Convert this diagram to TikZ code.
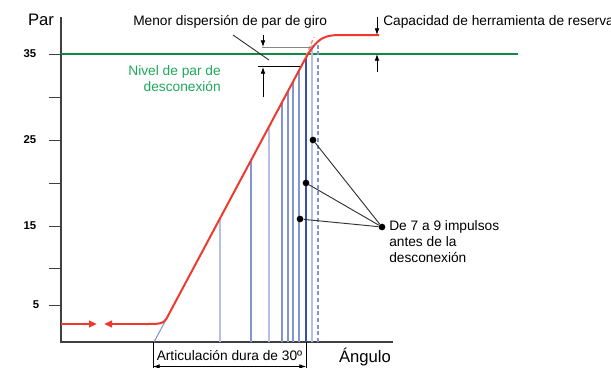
\documentclass[tikz,border=0pt]{standalone}
\usepackage{fontspec}
\setmainfont{Liberation Sans}
\usetikzlibrary{arrows.meta}
\definecolor{redc}{HTML}{EE3A2E}
\definecolor{greenc}{HTML}{0E8A45}
\definecolor{greent}{HTML}{1DA85A}
\definecolor{bl1}{HTML}{B3C1E6}
\definecolor{bl2}{HTML}{8096D2}
\definecolor{bl3}{HTML}{3550A8}
\definecolor{grayc}{HTML}{888888}
\begin{document}
\begin{tikzpicture}[x=0.75pt,y=-0.75pt,
  txt/.style={font=\fontsize{10.3}{12}\selectfont, inner sep=0pt},
  num/.style={font=\bfseries\fontsize{8.5}{9}\selectfont, inner sep=0pt},
  big/.style={font=\fontsize{12.5}{14}\selectfont, inner sep=0pt},
  axis/.style={line width=0.8pt, draw=black!75},
  tick/.style={line width=0.6pt, draw=black!75},
  curve/.style={draw=redc, line width=1.5pt},
  vl1/.style={draw=bl1, line width=0.9pt},
  vl2/.style={draw=bl2, line width=0.8pt},
  vl3/.style={draw=bl3, line width=1.4pt},
  leader/.style={draw=black!80, line width=0.7pt},
  dimarrow/.style={-{Latex[length=5pt,width=3.5pt]}, line width=0.6pt},
  dotm/.style={circle, fill=black, inner sep=0pt, minimum size=5pt}
]
\useasboundingbox (0,0) rectangle (611,368);

% axes
\coordinate (O) at (61,342);
\coordinate (Ytop) at (61,17);
\coordinate (Xend) at (393,342);
\draw[axis] (Ytop) -- (O) -- (Xend);
\foreach \y in {54,97,140,183,226,268,305} \draw[tick] (49,\y) -- (61,\y);
\node[num] (n35) at (30,54) {35};
\node[num] (n25) at (30,140) {25};
\node[num] (n15) at (30,226) {15};
\node[num] (n5) at (36,305) {5};
\node[big] (par) at (41,20) {Par};
\node[big] (ang) at (365,357) {Ángulo};

% green level
\coordinate (G0) at (61,54);
\coordinate (G1) at (518,54);
\draw[draw=greenc, line width=1.2pt] (G0) -- (G1);
\node[txt, text=greent, align=right, anchor=east] (nivel) at (221,79) {Nivel de par de\\desconexión};

% vertical impulse lines
\draw[vl1] (220,342) -- (220,219);
\draw[vl2] (251,342) -- (251,161);
\draw[vl1] (269,342) -- (269,127);
\draw[vl2] (282,342) -- (282,103);
\draw[vl2] (288,342) -- (288,91);
\draw[vl2] (293,342) -- (293,82);
\draw[vl2] (299,342) -- (299,71);
\draw[vl3] (306,342) -- (306,57);
\draw[vl1] (312,342) -- (312,45);
\draw[vl2, dashed, dash pattern=on 3pt off 2pt] (318,342) -- (318,45);

% blue extension
\coordinate (B0) at (168,316);
\coordinate (B1) at (154,342);
\draw[draw=bl2, line width=0.8pt] (B0) -- (B1);

% red dashed extension
\draw[draw=redc!60, line width=1pt, dash pattern=on 3pt off 2pt] (306,56) -- (314,37);

% dispersion lines
\coordinate (D1a) at (262,47);
\coordinate (D1b) at (311,47);
\coordinate (D2a) at (258,66);
\coordinate (D2b) at (302,66);
\draw[draw=grayc, line width=0.7pt] (D1a) -- (D1b);
\draw[draw=black, line width=0.6pt] (D2a) -- (D2b);
\draw[dimarrow] (263,35) -- (263,47);
\draw[dimarrow] (263,97) -- (263,67);
\draw[leader] (233,35) -- (269,60);
\node[txt, anchor=west] (menor) at (133,22) {Menor dispersión de par de giro};

% red curve
\draw[curve, -{Triangle[length=6pt,width=5pt]}] (61,324) -- (97,324);
\draw[curve, -{Triangle[length=6pt,width=5pt]}] (145,324) -- (104,324);
\draw[curve] (145,324) .. controls (164,324) .. (170,312) -- (303,63)
  .. controls (318,35) and (325,35) .. (345,35) -- (379,35);

% reserve arrows
\draw[dimarrow] (377,17) -- (377,35);
\draw[dimarrow] (377,72) -- (377,54);
\node[txt, anchor=west] (cap) at (383,22) {Capacidad de herramienta de reserva};

% impulse dots
\node[dotm] (p1) at (313,140) {};
\node[dotm] (p2) at (306,183) {};
\node[dotm] (p3) at (300,219) {};
\node[dotm] (pt) at (382,227) {};
\draw[leader] (p1) -- (pt);
\draw[leader] (p2) -- (pt);
\draw[leader] (p3) -- (pt);
\node[txt, anchor=north west, align=left] (imp) at (389,220) {De 7 a 9 impulsos\\antes de la\\desconexión};

% bottom bracket
\coordinate (A0) at (153,342);
\coordinate (A1) at (306,342);
\coordinate (A0b) at (153,368);
\coordinate (A1b) at (306,368);
\draw[line width=0.6pt] (A0) -- (A0b);
\draw[line width=0.6pt] (A1) -- (A1b);
\draw[{Latex[length=5pt,width=3.5pt]}-{Latex[length=5pt,width=3.5pt]}, line width=0.6pt] (153,366.5) -- (306,366.5);
\node[txt] (art) at (229.5,356) {Articulación dura de 30º};
\end{tikzpicture}
\end{document}
